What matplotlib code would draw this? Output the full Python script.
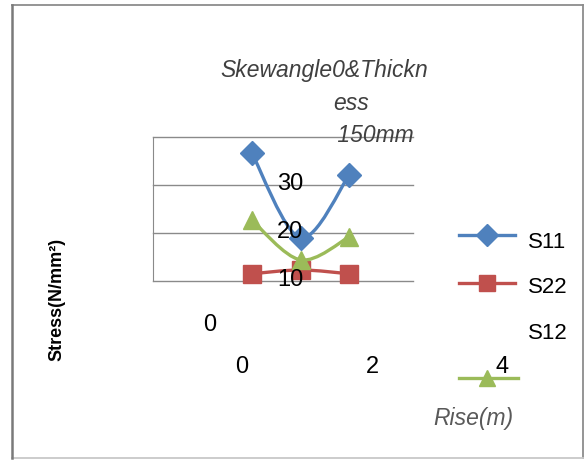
import matplotlib
matplotlib.use("agg")
import matplotlib.pyplot as plt
from matplotlib.lines import Line2D
from matplotlib.patches import PathPatch
from matplotlib.path import Path
from matplotlib.transforms import blended_transform_factory

# stresses for each rise value
rise = [0.15, 0.9, 1.65]
s11 = [36.7, 19.0, 32.1]
s22 = [11.5, 12.3, 11.5]
s12 = [22.7, 14.4, 19.2]
series_names = ["S11", "S22", "S12"]
y_ticks = [10, 20, 30, 40]
y_tick_labels = [0, 10, 20, 30]
x_tick_labels = [0, 2, 4]
title_lines = ["Skewangle0&Thickn", "ess", " 150mm"]

blue, red, green = "#4f81bd", "#c0504d", "#9bbb59"
grid_col = "#8a8a8a"
plt.rcParams["font.family"] = ["Liberation Sans", "DejaVu Sans"]

W, H = 587, 461
fig = plt.figure(figsize=(W / 100, H / 100), dpi=100)


def fx(px):
    return px / W


def fy(py):
    return 1 - py / H


def smooth(x, y):
    # catmull-rom style bezier through the points
    pts = list(zip(x, y))
    n = len(pts)
    verts, codes = [pts[0]], [Path.MOVETO]
    for i in range(n - 1):
        p0 = pts[max(i - 1, 0)]
        p1 = pts[i]
        p2 = pts[i + 1]
        p3 = pts[min(i + 2, n - 1)]
        c1 = (p1[0] + (p2[0] - p0[0]) / 6, p1[1] + (p2[1] - p0[1]) / 6)
        c2 = (p2[0] - (p3[0] - p1[0]) / 6, p2[1] - (p3[1] - p1[1]) / 6)
        verts += [c1, c2, p2]
        codes += [Path.CURVE4] * 3
    return Path(verts, codes)


def fig_line(x0, y0, x1, y1, col, lw):
    fig.add_artist(Line2D([fx(x0), fx(x1)], [fy(y0), fy(y1)], color=col,
                          lw=lw, transform=fig.transFigure))


# outer frame
fig_line(12, 5, 583, 5, "#8c8c8c", 1.3)
fig_line(583, 5, 583, 458, "#8c8c8c", 1.3)
fig_line(12, 458, 583, 458, "#c8c8c8", 1.3)
fig_line(12, 5, 12, 458, "#7a7a7a", 1.8)

ax = fig.add_axes([fx(153), fy(281), fx(413) - fx(153), fy(137) - fy(281)])
ax.set_xlim((153 - 242) / 65, (413 - 242) / 65)
ax.set_ylim(10, 40)
ax.set_yticks(y_ticks)
ax.set_xticks([])
ax.tick_params(left=False, labelleft=False)
ax.grid(axis="y", color=grid_col, lw=1)
for gl in ax.get_ygridlines():
    gl.set_clip_on(False)
for s in ["top", "right", "bottom"]:
    ax.spines[s].set_visible(False)
ax.spines["left"].set_color(grid_col)
ax.set_facecolor("none")

series = [(s11, blue, "D", 12), (s22, red, "s", 12.5), (s12, green, "^", 13)]
for z, (vals, col, mk, ms) in enumerate(series):
    ax.add_patch(PathPatch(smooth(rise, vals), fill=False, edgecolor=col,
                           lw=2.4, zorder=3 + z, clip_on=False,
                           capstyle="round", joinstyle="round"))
    ax.plot(rise, vals, linestyle="none", marker=mk, ms=ms, color=col,
            zorder=3 + z, clip_on=False)

# tick labels that float inside the plot
for v in y_tick_labels[1:]:
    ax.text(0.74, v + 0.3, str(v), fontsize=17, ha="center", va="center",
            zorder=10, clip_on=False)
ax.text(-0.49, 0.9, str(y_tick_labels[0]), fontsize=17, ha="center",
        va="center", zorder=10, clip_on=False)
bt = blended_transform_factory(ax.transData, ax.transAxes)
for v in x_tick_labels:
    ax.text(v, -0.6, str(v), transform=bt, fontsize=17, ha="center",
            va="center", zorder=10, clip_on=False)

# title
for (txt, x0, base) in zip(title_lines, [220, 333, 331], [77, 110, 142]):
    fig.text(fx(x0), fy(base), txt, fontsize=16.5, style="italic",
             color="#404040", ha="left", va="baseline")

fig.text(fx(57), fy(299), "Stress(N/mm²)", rotation=90, fontsize=13,
         fontweight="bold", ha="center", va="center")
fig.text(fx(473), fy(418), "Rise(m)", fontsize=16.5, style="italic",
         color="#595959", ha="center", va="center")

# legend
leg_rows = [(blue, "D", 11, 235, 515), (red, "s", 12, 283, 515),
            (green, "^", 12, 378, 518)]
for (col, mk, ms, ly, x1) in leg_rows:
    fig_line(459, ly, x1, ly, col, 2.4)
    fig.add_artist(Line2D([fx(487)], [fy(ly)], marker=mk, ms=ms, color=col,
                          transform=fig.transFigure))
for name, ty in zip(series_names, [242, 287, 333]):
    fig.text(fx(528), fy(ty), name, fontsize=16, ha="left", va="center")

fig.savefig("out.png", dpi=100)
